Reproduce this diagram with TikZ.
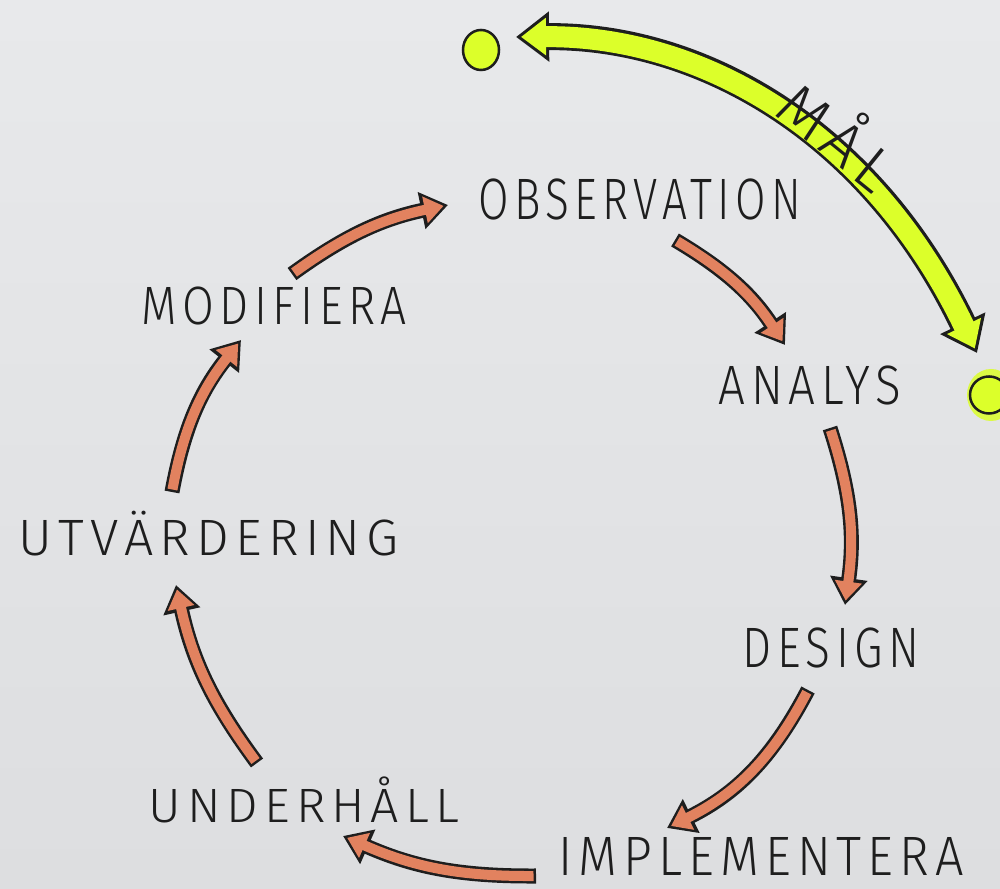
\documentclass[tikz,border=0pt]{standalone}
\usepackage{fontspec}
\setmainfont{Fira Sans}[UprightFont={* Light},LetterSpace=12]
\usepackage{graphicx}
\usetikzlibrary{arrows.meta,shapes.geometric}
\definecolor{paperA}{HTML}{E8E9EB}
\definecolor{paperB}{HTML}{DDDEE0}
\definecolor{salmon}{HTML}{E2825F}
\definecolor{hilite}{HTML}{DCFF2A}
\definecolor{ink}{HTML}{1E1E1E}
\newcommand{\hw}[3]{\resizebox{#1}{#2}{\vphantom{H}\smash{#3}}}
\newcommand{\salarrow}[3]{%
  \draw[salback] (#1) to[bend left=#3] (#2);
  \draw[salfront] (#1) to[bend left=#3] (#2);}
\begin{document}
\begin{tikzpicture}[x=0.01cm,y=-0.01cm,
  word/.style={inner sep=0pt,anchor=south west,text=ink},
  salback/.style={draw=ink,line width=0.15cm,-{Triangle[width=0.36cm,length=0.27cm]}},
  salfront/.style={draw=salmon,line width=0.10cm,shorten <=0.025cm,shorten >=0.045cm,-{Triangle[width=0.26cm,length=0.19cm]}},
  gback/.style={draw=ink,line width=0.27cm,{Triangle[width=0.48cm,length=0.33cm]}-{Triangle[width=0.48cm,length=0.33cm]}},
  gfront/.style={draw=hilite,line width=0.21cm,shorten <=0.05cm,shorten >=0.05cm,{Triangle[width=0.36cm,length=0.25cm]}-{Triangle[width=0.36cm,length=0.25cm]}},
  gdot/.style={ellipse,draw=ink,fill=hilite,line width=0.025cm,inner sep=0pt}]
\useasboundingbox (0,0) rectangle (1000,889);
\shade[top color=paperA,bottom color=paperB] (0,0) rectangle (1000,889);
\clip (0,0) rectangle (1000,889);

% words
\node[word] (obs) at (478,220) {\hw{3.22cm}{0.40cm}{OBSERVATION}};
\node[word] (ana) at (718,405) {\hw{1.82cm}{0.38cm}{ANALYS}};
\node[word] (des) at (742,668) {\hw{1.77cm}{0.39cm}{DESIGN}};
\node[word] (imp) at (558,876) {\hw{4.05cm}{0.38cm}{IMPLEMENTERA}};
\node[word] (und) at (148,823) {\hw{3.10cm}{0.33cm}{UNDERHÅLL}};
\node[word] (utv) at (18,556) {\hw{3.80cm}{0.35cm}{UTVÄRDERING}};
\node[word] (mod) at (141,325) {\hw{2.65cm}{0.37cm}{MODIFIERA}};

% arrow end points
\coordinate (a1s) at (292,274); \coordinate (a1e) at (448,205);
\coordinate (a2s) at (675,240); \coordinate (a2e) at (785,345);
\coordinate (a3s) at (830,428); \coordinate (a3e) at (845,605);
\coordinate (a4s) at (808,690); \coordinate (a4e) at (667,828);
\coordinate (a5s) at (536,876); \coordinate (a5e) at (343,836);
\coordinate (a6s) at (257,763); \coordinate (a6e) at (176,585);
\coordinate (a7s) at (172,492); \coordinate (a7e) at (241,340);

\salarrow{a1s}{a1e}{12}
\salarrow{a2s}{a2e}{13}
\salarrow{a3s}{a3e}{13}
\salarrow{a4s}{a4e}{18}
\salarrow{a5s}{a5e}{12}
\salarrow{a6s}{a6e}{12}
\salarrow{a7s}{a7e}{14}

% goal arrow
\fill[hilite!85!paperB] (991,395) ellipse [x radius=0.24cm, y radius=0.26cm];
\node[gdot,minimum width=0.36cm,minimum height=0.40cm] (d1) at (481,50) {};
\node[gdot,minimum width=0.38cm,minimum height=0.37cm] (d2) at (989,395) {};
\coordinate (g1) at (516,37);
\coordinate (g2) at (977,353);
\draw[gback] (g1) .. controls (700,35) and (870,130) .. (g2);
\draw[gfront] (g1) .. controls (700,35) and (870,130) .. (g2);
\node[text=ink,inner sep=0pt,rotate=-39] (mal) at (836,138) {\hw{1.30cm}{0.42cm}{MÅL}};
\end{tikzpicture}
\end{document}
